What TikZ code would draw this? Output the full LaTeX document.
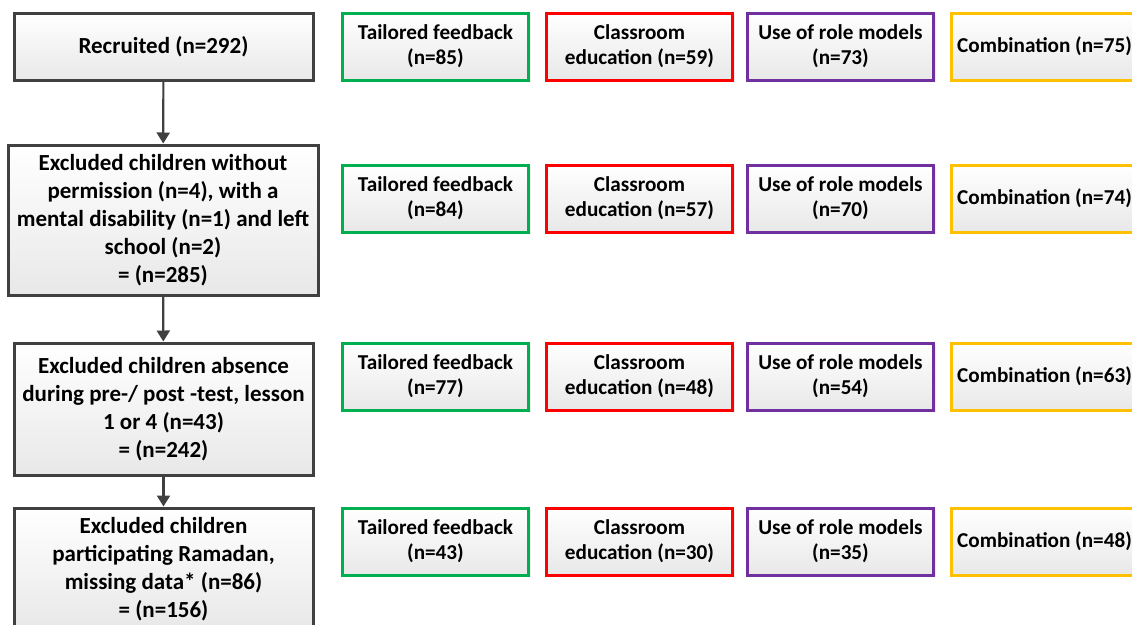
\documentclass[tikz,border=0pt]{standalone}
\usepackage{fontspec}
\setmainfont{Carlito}
\usetikzlibrary{arrows.meta,shadows}
\definecolor{cgreen}{RGB}{0,176,80}
\definecolor{cred}{RGB}{255,0,0}
\definecolor{cpurple}{RGB}{112,48,160}
\definecolor{cgold}{RGB}{255,192,0}
\definecolor{cdark}{RGB}{64,64,64}
\tikzset{
  basebox/.style={rectangle, top color=white, bottom color=black!9, text=black,
    line width=3pt, align=flush center, inner sep=2pt,
    font=\bfseries\fontsize{21.2}{25}\selectfont,
    drop shadow={opacity=0.15, shadow xshift=2pt, shadow yshift=-2pt}},
  leftbox/.style={basebox, draw=cdark, minimum width=299pt, text width=295pt,
    font=\bfseries\fontsize{23}{28}\selectfont},
  armbox/.style={basebox, minimum width=185pt, minimum height=67pt, text width=182pt},
  tf/.style={armbox, draw=cgreen},
  ce/.style={armbox, draw=cred},
  rm/.style={armbox, draw=cpurple},
  co/.style={armbox, draw=cgold},
  arr/.style={draw=cdark, line width=2.2pt, -{Triangle[length=11pt,width=13pt]}}
}
\begin{document}
\begin{tikzpicture}[x=1pt,y=-1pt]
\useasboundingbox (0,0) rectangle (1132,624);
% left column
\node[leftbox, minimum height=67pt] (r1) at (163.5,46.5) {Recruited (n=292)};
\node[leftbox, minimum width=310pt, text width=306pt, minimum height=150pt] (r2) at (163,220)
  {Excluded children without\\permission (n=4), with a\\mental disability (n=1) and left\\school (n=2)\\= (n=285)};
\node[leftbox, minimum height=132pt] (r3) at (163.5,409)
  {Excluded children absence\\during pre-/ post -test, lesson\\1 or 4 (n=43)\\= (n=242)};
\node[leftbox, minimum height=122pt] (r4) at (163.5,569)
  {Excluded children\\participating Ramadan,\\missing data* (n=86)\\= (n=156)};
\draw[arr] (r1) -- (r2);
\draw[arr] (r2) -- (r3);
\draw[arr] (r3) -- (r4);
% row 1
\node[tf] (t1) at (435.5,46.5) {Tailored feedback\\(n=85)};
\node[ce] (c1) at (639.5,46.5) {Classroom\\education (n=59)};
\node[rm] (m1) at (840.5,46.5) {Use of role models\\(n=73)};
\node[co] (k1) at (1044.5,46.5) {Combination (n=75)};
% row 2
\node[tf] (t2) at (435.5,198.5) {Tailored feedback\\(n=84)};
\node[ce] (c2) at (639.5,198.5) {Classroom\\education (n=57)};
\node[rm] (m2) at (840.5,198.5) {Use of role models\\(n=70)};
\node[co] (k2) at (1044.5,198.5) {Combination (n=74)};
% row 3
\node[tf] (t3) at (435.5,376.5) {Tailored feedback\\(n=77)};
\node[ce] (c3) at (639.5,376.5) {Classroom\\education (n=48)};
\node[rm] (m3) at (840.5,376.5) {Use of role models\\(n=54)};
\node[co] (k3) at (1044.5,376.5) {Combination (n=63)};
% row 4
\node[tf] (t4) at (435.5,541.5) {Tailored feedback\\(n=43)};
\node[ce] (c4) at (639.5,541.5) {Classroom\\education (n=30)};
\node[rm] (m4) at (840.5,541.5) {Use of role models\\(n=35)};
\node[co] (k4) at (1044.5,541.5) {Combination (n=48)};
\end{tikzpicture}
\end{document}
